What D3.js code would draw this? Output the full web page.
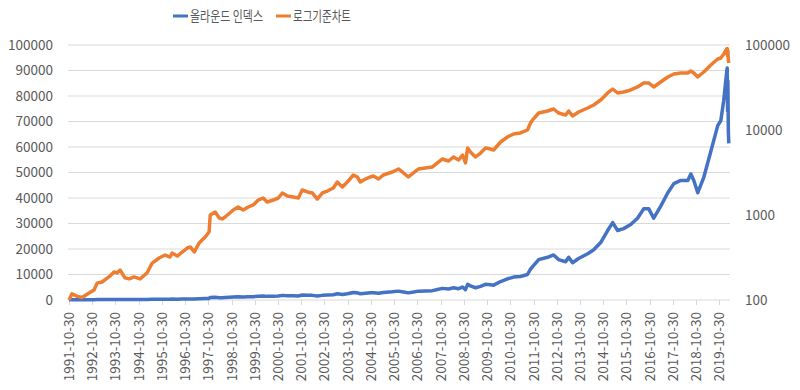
<!DOCTYPE html>
<html>
<head>
<meta charset="utf-8">
<script src="https://cdn.jsdelivr.net/npm/d3@7"></script>
<style>
  body { margin: 0; background: #fff; }
  text { font-family: "Noto Sans CJK KR", "Noto Sans", sans-serif; fill: #595959; }
</style>
</head>
<body>
<div id="chart"></div>
<script>
// series names (legend)
var seriesNames = ["올라운드 인덱스", "로그기준차트"];

// dates and index values (the log series is the same index on a log axis)
var dates = [
  "1991-10-30","1991-12-15","1992-03-01","1992-05-22","1992-09-09","1992-11-27","1993-01-15","1993-04-01",
  "1993-07-19","1993-10-08","1993-11-24","1994-01-11","1994-03-28","1994-06-03","1994-08-18","1994-11-21",
  "1995-03-10","1995-05-30","1995-09-16","1995-12-20","1996-03-06","1996-04-08","1996-06-28","1996-09-13",
  "1996-12-02","1997-01-19","1997-03-22","1997-06-07","1997-09-10","1997-11-10","1997-11-28","1998-02-14",
  "1998-04-20","1998-06-03","1998-07-20","1998-11-25","1999-02-10","1999-05-01","1999-07-19","1999-10-05",
  "1999-12-24","2000-03-10","2000-05-11","2000-08-15","2000-11-03","2001-01-05","2001-03-26","2001-06-28",
  "2001-09-13","2001-11-14","2002-02-03","2002-04-20","2002-07-09","2002-09-27","2002-12-13","2003-03-18",
  "2003-05-19","2003-08-08","2003-10-24","2004-01-27","2004-03-29","2004-05-15","2004-08-04","2004-10-20",
  "2004-12-06","2005-02-25","2005-05-12","2005-10-01","2006-01-05","2006-03-26","2006-06-10","2006-08-29",
  "2006-11-14","2007-03-03","2007-06-24","2007-09-10","2007-11-28","2008-03-03","2008-05-19","2008-08-08",
  "2008-10-09","2008-11-24","2008-12-28","2009-02-10","2009-05-01","2009-07-19","2009-10-05","2009-12-24",
  "2010-02-10","2010-05-30","2010-09-16","2010-12-20","2011-04-08","2011-07-27","2011-09-13","2011-10-16",
  "2012-01-19","2012-06-07","2012-09-10","2012-11-27","2013-03-18","2013-05-05","2013-07-05","2013-10-08",
  "2014-02-28","2014-06-03","2014-09-20","2015-01-08","2015-03-28","2015-06-14","2015-09-16","2016-01-05",
  "2016-04-22","2016-07-27","2016-10-16","2017-01-01","2017-04-20","2017-08-11","2017-11-14","2018-03-03",
  "2018-06-21","2018-08-08","2018-09-24","2018-11-25","2019-02-28","2019-06-18","2019-10-05","2019-11-22",
  "2020-01-08","2020-02-24","2020-03-02","2020-03-08","2020-03-13","2020-03-20","2020-03-27"
];
var indexValues = [
  100,118,111,107,121,131,158,163,
  187,214,208,225,182,177,187,177,
  208,272,312,338,320,357,329,367,
  409,421,367,469,551,631,1000,1084,
  922,898,947,1145,1242,1145,1242,1312,
  1501,1585,1422,1501,1585,1815,1674,1629,
  1585,1968,1866,1815,1542,1815,1914,2078,
  2443,2134,2443,2956,2800,2443,2652,2800,
  2877,2652,2956,3206,3477,3120,2800,3120,
  3477,3573,3672,4093,4561,4318,4812,4436,
  5080,4093,6138,5508,4812,5360,6138,5972,
  5815,7227,8274,8977,9228,10000,12080,13120,
  15850,16740,17660,15850,15000,16740,14610,16290,
  18150,19690,22520,27250,30360,27250,27990,29580,
  32080,35740,35740,32080,36730,42070,45630,46880,
  46880,49430,46880,42070,48110,58210,68400,70290,
  78330,89700,91000,74000,86000,66000,61400
];

// tick labels
var xTickLabels = [];
for (var yr = 1991; yr <= 2019; yr++) xTickLabels.push(yr + "-10-30");
var leftTicks = [0,10000,20000,30000,40000,50000,60000,70000,80000,90000,100000];
var rightTicks = [100,1000,10000,100000];

var svgWidth = 800, svgHeight = 390;
var plot = { left: 68, right: 730, top: 45, bottom: 300 };

var parse = d3.timeParse("%Y-%m-%d");
var data = dates.map(function(d, i) { return { date: parse(d), value: indexValues[i] }; });

var svg = d3.select("#chart").append("svg")
  .attr("width", svgWidth)
  .attr("height", svgHeight);

// scales
var x = d3.scaleTime()
  .domain([parse("1991-10-30"), parse("2020-04-15")])
  .range([69, plot.right]);
var yLeft = d3.scaleLinear().domain([0, 100000]).range([plot.bottom, plot.top]);
var yRight = d3.scaleLog().domain([100, 100000]).range([plot.bottom, plot.top]);

// gridlines
svg.append("g").selectAll("line")
  .data(leftTicks.slice(1))
  .enter().append("line")
  .attr("x1", plot.left).attr("x2", plot.right)
  .attr("y1", d => yLeft(d)).attr("y2", d => yLeft(d))
  .attr("stroke", "#d9d9d9").attr("stroke-width", 1);

// left axis labels
svg.append("g").selectAll("text")
  .data(leftTicks)
  .enter().append("text")
  .attr("x", 53)
  .attr("y", d => yLeft(d))
  .attr("dy", "0.35em")
  .attr("text-anchor", "end")
  .attr("font-size", "13.5px")
  .text(d => d);

// right axis labels
svg.append("g").selectAll("text")
  .data(rightTicks)
  .enter().append("text")
  .attr("x", 745)
  .attr("y", d => yRight(d))
  .attr("dy", "0.35em")
  .attr("font-size", "13.5px")
  .text(d => d);

// x axis line + ticks
svg.append("line")
  .attr("x1", plot.left).attr("x2", plot.right)
  .attr("y1", plot.bottom).attr("y2", plot.bottom)
  .attr("stroke", "#d9d9d9");

var xTicks = svg.append("g").selectAll("g")
  .data(xTickLabels)
  .enter().append("g")
  .attr("transform", d => `translate(${Math.round(x(parse(d))) + 0.5}, ${plot.bottom})`);

xTicks.append("line")
  .attr("y1", 0).attr("y2", 5)
  .attr("stroke", "#d9d9d9");

xTicks.append("text")
  .attr("transform", "rotate(-90)")
  .attr("x", -12)
  .attr("y", 0)
  .attr("dy", "0.35em")
  .attr("text-anchor", "end")
  .attr("font-size", "13.5px")
  .text(d => d);

// lines
var lineLeft = d3.line()
  .x(d => x(d.date))
  .y(d => yLeft(d.value));
var lineRight = d3.line()
  .x(d => x(d.date))
  .y(d => yRight(d.value));

svg.append("path")
  .datum(data)
  .attr("d", lineLeft)
  .attr("fill", "none")
  .attr("stroke", "#4472C4")
  .attr("stroke-width", 3.5)
  .attr("stroke-linejoin", "round");

svg.append("path")
  .datum(data)
  .attr("d", lineRight)
  .attr("fill", "none")
  .attr("stroke", "#ED7D31")
  .attr("stroke-width", 3.5)
  .attr("stroke-linejoin", "round");

// legend (hangul in the original is narrow, so squeeze it to the same width)
var legend = [
  { name: seriesNames[0], color: "#4472C4", x: 173, w: 73 },
  { name: seriesNames[1], color: "#ED7D31", x: 276, w: 58 }
];
var lg = svg.append("g").selectAll("g")
  .data(legend)
  .enter().append("g")
  .attr("transform", d => `translate(${d.x}, 16)`);
lg.append("line")
  .attr("x1", 0).attr("x2", 15)
  .attr("stroke", d => d.color)
  .attr("stroke-width", 3);
lg.append("text")
  .attr("x", 17)
  .attr("dy", "0.35em")
  .attr("font-size", "14px")
  .attr("textLength", d => d.w)
  .attr("lengthAdjust", "spacingAndGlyphs")
  .text(d => d.name);
</script>
</body>
</html>
